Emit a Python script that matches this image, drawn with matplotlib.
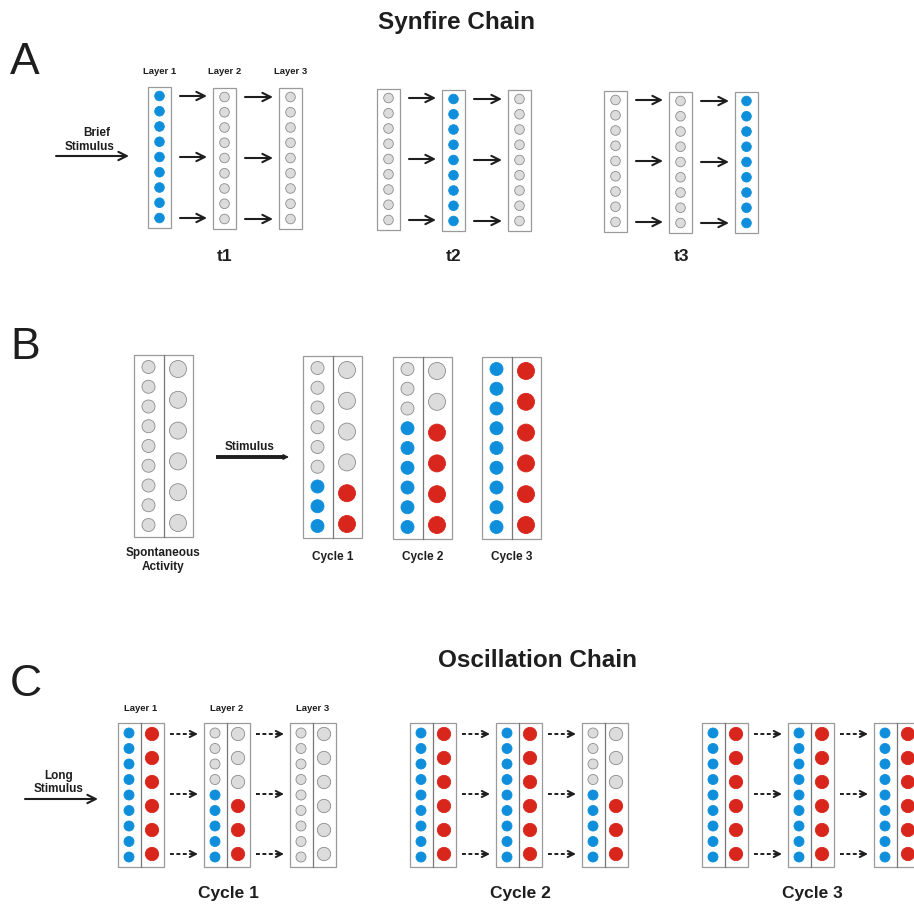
import numpy as np
import matplotlib.pyplot as plt
from matplotlib.patches import Rectangle

plt.rcParams['font.family'] = ['Liberation Sans', 'DejaVu Sans']

# ---- data ----
# panel A : which layer fires at each time step (1 = active)
a_times = ['t1', 't2', 't3']
a_layers = ['Layer 1', 'Layer 2', 'Layer 3']
a_active = [[1, 0, 0],
            [0, 1, 0],
            [0, 0, 1]]

# panel B : number of active units counted from the bottom
b_labels = ['Spontaneous\nActivity', 'Cycle 1', 'Cycle 2', 'Cycle 3']
b_small_on = [0, 3, 6, 9]
b_big_on = [0, 2, 4, 6]

# panel C : active units per layer for each cycle (from the bottom)
c_cycles = ['Cycle 1', 'Cycle 2', 'Cycle 3']
c_small_on = [[9, 5, 0],
              [9, 9, 5],
              [9, 9, 9]]
c_big_on = [[6, 3, 0],
            [6, 6, 3],
            [6, 6, 6]]

BLUE = '#0f8fdb'
RED = '#d9261c'
GRAY = '#dcdcdc'
GRAY_EDGE = '#8c8c8c'
BOX_EDGE = '#9a9a9a'
INK = '#1e1e1e'

fig = plt.figure(figsize=(9.14, 9.05), dpi=100)
ax = fig.add_axes([0, 0, 1, 1])
ax.set_xlim(0, 914)
ax.set_ylim(905, 0)
ax.axis('off')


def dots(x, y0, y1, n, n_on, color, size):
    ys = np.linspace(y0, y1, n)
    cols = [GRAY] * (n - n_on) + [color] * n_on
    edges = [GRAY_EDGE] * (n - n_on) + [color] * n_on
    ax.scatter([x] * n, ys, s=size, c=cols, edgecolors=edges,
               linewidths=0.6, zorder=3)


def box(x0, y0, w, h, split=None):
    ax.add_patch(Rectangle((x0, y0), w, h, fill=False, ec=BOX_EDGE,
                           lw=0.9, zorder=2))
    if split is not None:
        ax.plot([split, split], [y0, y0 + h], color='#777777', lw=0.9, zorder=2)


def arrow(x0, x1, y, lw=1.5, dashed=False, ms=15):
    if dashed:
        ax.plot([x0, x1 - 3], [y, y], color=INK, lw=lw, ls=(0, (2.0, 1.3)))
        ax.annotate('', xy=(x1, y), xytext=(x1 - 6, y),
                    arrowprops=dict(arrowstyle='->', lw=lw, color=INK,
                                    mutation_scale=ms, shrinkA=0, shrinkB=0))
    else:
        ax.annotate('', xy=(x1, y), xytext=(x0, y),
                    arrowprops=dict(arrowstyle='->', lw=lw, color=INK,
                                    mutation_scale=ms, shrinkA=0, shrinkB=0))


# ================= A : Synfire Chain =================
ax.text(457, 22, 'Synfire Chain', ha='center', va='center',
        fontsize=17.5, fontweight='bold', color=INK)
ax.text(10, 62, 'A', ha='left', va='center', fontsize=32, color=INK)

a_gx = [148, 377, 604]
a_gy = [87, 89, 91]
a_off = [0, 65, 131]
for g in range(3):
    for l in range(3):
        x0 = a_gx[g] + a_off[l]
        y0 = a_gy[g] + (1 if l > 0 else 0)
        box(x0, y0, 23, 141)
        on = 9 if a_active[g][l] else 0
        dots(x0 + 11.5, y0 + 9, y0 + 131, 9, on, BLUE, 48)
        if l < 2:
            for r in [0, 4, 8]:
                yy = y0 + 9 + r * 122 / 8
                arrow(x0 + 32, a_gx[g] + a_off[l + 1] - 6, yy)
    ax.text(a_gx[g] + 77, 256, a_times[g], ha='center', va='center',
            fontsize=12.5, fontweight='bold', color=INK)

for l in range(3):
    ax.text(a_gx[0] + a_off[l] + 11.5, 72, a_layers[l], ha='center',
            va='center', fontsize=6.8, fontweight='bold', color=INK)

arrow(56, 129, 156)
ax.text(97, 133, 'Brief', ha='center', va='center', fontsize=8.5,
        fontweight='bold', color=INK)
ax.text(90, 147, 'Stimulus', ha='center', va='center', fontsize=8.5,
        fontweight='bold', color=INK)

# ================= B =================
ax.text(10, 347, 'B', ha='left', va='center', fontsize=32, color=INK)

b_x = [134, 303, 393, 482]
b_y = [355, 356, 357, 357]
for i in range(4):
    x0, y0 = b_x[i], b_y[i]
    box(x0, y0, 59, 182, split=x0 + 29.5)
    dots(x0 + 14.5, y0 + 12, y0 + 170, 9, b_small_on[i], BLUE, 88)
    dots(x0 + 44, y0 + 14, y0 + 168, 6, b_big_on[i], RED, 150)
    if i == 0:
        ax.text(x0 + 29.5, 560, b_labels[i], ha='center', va='center',
                fontsize=8.5, fontweight='bold', color=INK, linespacing=1.3)
    else:
        ax.text(x0 + 29.5, 557, b_labels[i], ha='center', va='center',
                fontsize=8.5, fontweight='bold', color=INK)

ax.plot([216, 284], [457, 457], color=INK, lw=2.8, solid_capstyle='butt')
ax.annotate('', xy=(289, 457), xytext=(281, 457),
            arrowprops=dict(arrowstyle='-|>', lw=1, color=INK,
                            mutation_scale=8, shrinkA=0, shrinkB=0))
ax.text(250, 447, 'Stimulus', ha='center', va='center', fontsize=8.5,
        fontweight='bold', color=INK)

# ================= C : Oscillation Chain =================
ax.text(537, 660, 'Oscillation Chain', ha='center', va='center',
        fontsize=17.5, fontweight='bold', color=INK)
ax.text(10, 684, 'C', ha='left', va='center', fontsize=32, color=INK)

c_gx = [118, 410, 702]
c_off = [0, 86, 172]
for g in range(3):
    for l in range(3):
        x0 = c_gx[g] + c_off[l]
        y0 = 723
        box(x0, y0, 46, 144, split=x0 + 23)
        dots(x0 + 11, y0 + 10, y0 + 134, 9, c_small_on[g][l], BLUE, 52)
        dots(x0 + 34, y0 + 11, y0 + 131, 6, c_big_on[g][l], RED, 92)
        if l < 2:
            for r in [0, 4, 8]:
                yy = y0 + 11 + r * 120 / 8
                arrow(x0 + 52, c_gx[g] + c_off[l + 1] - 6, yy, lw=1.4,
                      dashed=True, ms=11)
    ax.text(c_gx[g] + 110, 893, c_cycles[g], ha='center', va='center',
            fontsize=12.5, fontweight='bold', color=INK)

for l in range(3):
    ax.text(c_gx[0] + c_off[l] + 23, 708, a_layers[l], ha='center',
            va='center', fontsize=6.8, fontweight='bold', color=INK)

arrow(25, 98, 799)
ax.text(59, 776, 'Long', ha='center', va='center', fontsize=8.5,
        fontweight='bold', color=INK)
ax.text(59, 789, 'Stimulus', ha='center', va='center', fontsize=8.5,
        fontweight='bold', color=INK)

plt.savefig('out.png', dpi=100)
